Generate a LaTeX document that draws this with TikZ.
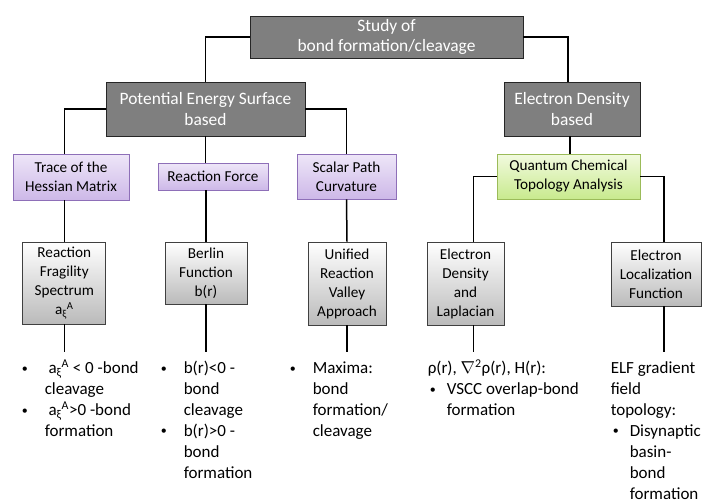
\documentclass[tikz,border=0pt]{standalone}
\usepackage{fontspec}
\setmainfont{Carlito}
\definecolor{headgray}{HTML}{7F7F7F}
\definecolor{lilactop}{HTML}{EEE6F8}
\definecolor{lilacbot}{HTML}{CDB8E8}
\definecolor{lilacline}{HTML}{8E6FB8}
\definecolor{limetop}{HTML}{F2FADF}
\definecolor{limebot}{HTML}{C8EA8E}
\definecolor{limeline}{HTML}{9BBB59}
\newcommand{\bul}[1][23pt]{\makebox[#1][l]{\raisebox{1.5pt}{\fontsize{12}{12}\selectfont •}}}
\newcommand{\ind}[1][23pt]{\hspace*{#1}}
\newcommand{\aXiA}{a\textsubscript{ξ}\textsuperscript{A}}

\begin{document}
\begin{tikzpicture}[x=1pt,y=-1pt,line width=1.5pt,
 head/.style={draw=black!85,line width=0.8pt,fill=headgray,text=white,align=center,inner sep=0pt,
  font=\fontsize{17.4}{20.5}\selectfont},
 method/.style={draw=lilacline,line width=0.8pt,top color=lilactop,bottom color=lilacbot,align=center,
  inner sep=0pt,font=\fontsize{15.2}{19}\selectfont},
 topo/.style={method,draw=limeline,top color=limetop,bottom color=limebot},
 tool/.style={method,draw=black!75,top color=white,bottom color=black!27},
 note/.style={anchor=north west,inner sep=0pt,align=left,font=\fontsize{17}{20.9}\selectfont}]
 \useasboundingbox (0,0) rectangle (702,501);
 % top row
 \node[head,minimum width=273,minimum height=42] (study) at (386.5,37) {Study of\\bond formation/cleavage};
 \node[head,minimum width=199,minimum height=54] (pes) at (205.5,109) {Potential Energy Surface\\based};
 \node[head,minimum width=136,minimum height=54] (edb) at (572,109) {Electron Density\\based};
 % methods
 \node[method,minimum width=116,minimum height=46] (trace) at (71,177) {Trace of the\\Hessian Matrix};
 \node[method,minimum width=110,minimum height=27] (force) at (213,176.5) {Reaction Force};
 \node[method,minimum width=99,minimum height=45] (scalar) at (346.5,176.5) {Scalar Path\\Curvature};
 \node[topo,minimum width=143,minimum height=45] (qcta) at (568.5,176.5) {Quantum Chemical\\Topology Analysis};
 % tools
 \node[tool,minimum width=83,minimum height=82] (rfs) at (64.3,283) {Reaction\\Fragility\\Spectrum\\\aXiA};
 \node[tool,minimum width=82,minimum height=62] (berlin) at (206,273) {Berlin\\Function\\b(r)};
 \node[tool,minimum width=78,minimum height=83] (urva) at (347,283.5) {Unified\\Reaction\\Valley\\Approach};
 \node[tool,minimum width=77,minimum height=83] (edl) at (465.5,283.5) {Electron\\Density\\and\\Laplacian};
 \node[tool,minimum width=90,minimum height=64] (elf) at (656,274) {Electron\\Localization\\Function};
 % outcomes
 \node[note] (rfsnote) at (21,359) {\rule{0pt}{14pt}\bul\ \aXiA{} < 0 -bond\\\ind cleavage\\\bul\ \aXiA{}>0 -bond\\\ind formation};
 \node[note] (berlinnote) at (160,359) {\rule{0pt}{14pt}\bul b(r)<0 -\\\ind bond\\\ind cleavage\\\bul b(r)>0 -\\\ind bond\\\ind formation};
 \node[note] (urvanote) at (289,359) {\rule{0pt}{14pt}\bul Maxima:\\\ind bond\\\ind formation/\\\ind cleavage};
 \node[note] (edlnote) at (427,359) {\rule{0pt}{14pt}ρ(r), $\nabla$\textsuperscript{2}ρ(r), H(r):\\\ind[2pt]\bul[17pt]VSCC overlap-bond\\\ind[19pt]formation};
 \node[note] (elfnote) at (610,359) {\rule{0pt}{14pt}ELF gradient\\field\\topology:\\\ind[2pt]\bul[17pt]Disynaptic\\\ind[19pt]basin-\\\ind[19pt]bond\\\ind[19pt]formation};
 % connectors
 \draw (study.west) -| (pes.north);
 \draw (study.east) -| ([xshift=-4pt]edb.north);
 \draw (pes.west) -| (trace.north -| rfs.north);
 \draw (pes.east) -| (scalar.north);
 \draw (pes.south) -- (pes.south |- force.north);
 \draw ([xshift=-2pt]edb.south) -- ([xshift=-2pt]edb.south |- qcta.north);
 \draw (qcta.west) -| ([xshift=8pt]edl.north);
 \draw (qcta.east) -| ([xshift=8pt]elf.north);
 \draw (trace.south -| rfs.north) -- (rfs.north);
 \draw (force.south -| berlin.north) -- (berlin.north);
 \draw (scalar.south) -- (urva.north);
 \draw (rfs.south) -- ([yshift=7pt]rfs.south |- rfsnote.north);
 \draw (berlin.south) -- ([yshift=7pt]berlin.south |- berlinnote.north);
 \draw (urva.south) -- ([yshift=7pt]urva.south |- urvanote.north);
 \draw ([xshift=8pt]edl.south) -- ([xshift=8pt,yshift=7pt]edl.south |- edlnote.north);
 \draw ([xshift=8pt]elf.south) -- ([xshift=8pt,yshift=7pt]elf.south |- elfnote.north);
\end{tikzpicture}
\end{document}
